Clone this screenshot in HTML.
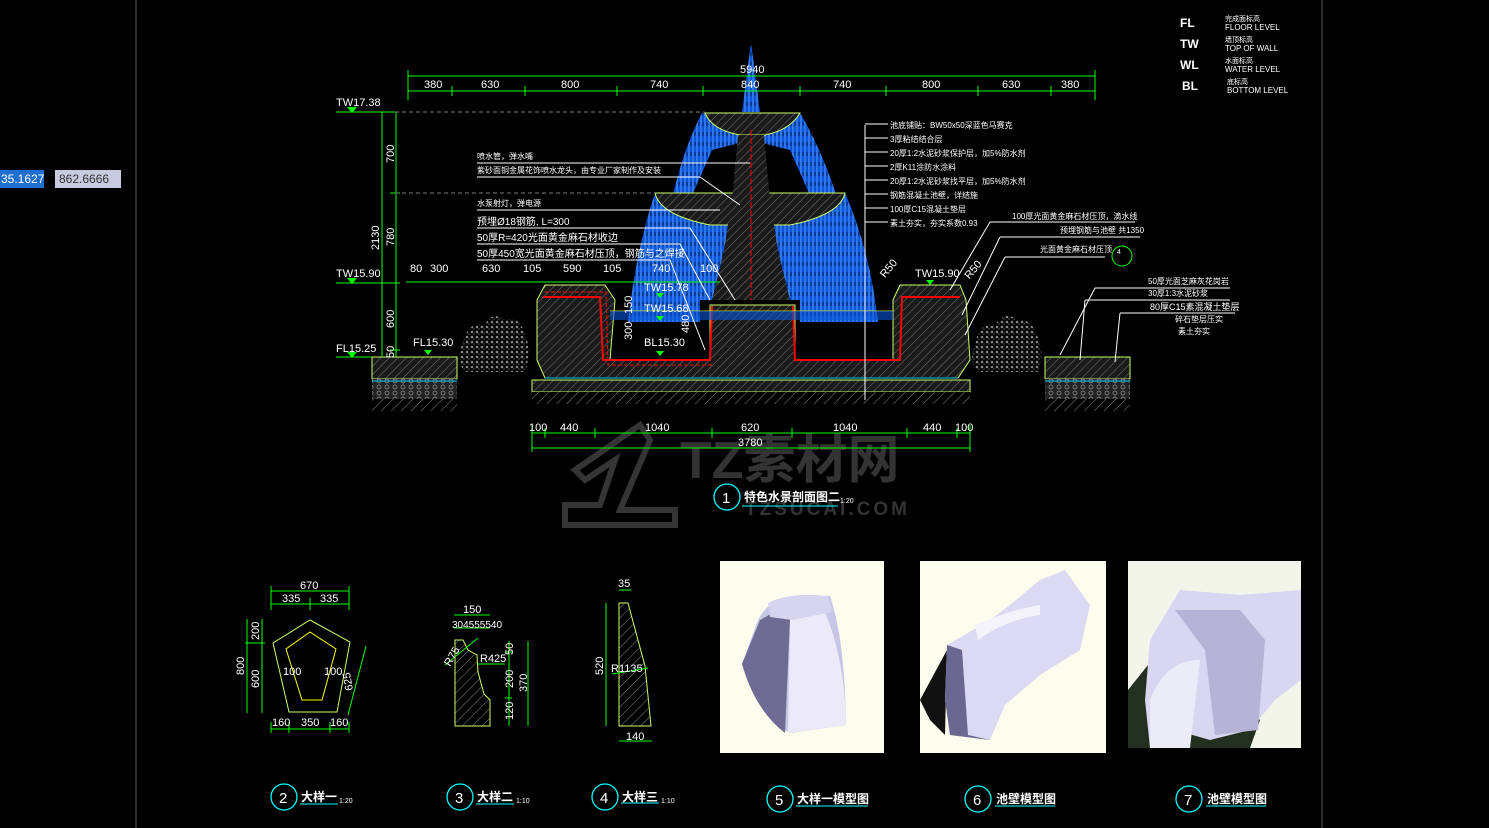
<!DOCTYPE html>
<html><head><meta charset="utf-8"><style>
html,body{margin:0;padding:0;background:#000;width:1489px;height:828px;overflow:hidden}
svg{display:block}
text{font-family:"Liberation Sans","Noto Sans CJK SC",sans-serif;fill:#fff}
.d{font-size:11px}
.g{stroke:#0f0;stroke-width:1;fill:none}
.w{stroke:#fff;stroke-width:1;fill:none}
</style></head><body>
<svg width="1489" height="828" viewBox="0 0 1489 828" xmlns="http://www.w3.org/2000/svg">
<defs>
<pattern id="h" width="6" height="6" patternUnits="userSpaceOnUse" patternTransform="rotate(45)">
<rect width="6" height="6" fill="#1a1a1a"/><line x1="0" y1="0" x2="0" y2="6" stroke="#777" stroke-width="1"/></pattern>
<pattern id="hl" width="7" height="7" patternUnits="userSpaceOnUse" patternTransform="rotate(45)">
<rect width="7" height="7" fill="#000"/><line x1="0" y1="0" x2="0" y2="7" stroke="#888" stroke-width="1"/></pattern>
<pattern id="wv" width="4" height="10" patternUnits="userSpaceOnUse">
<rect width="4" height="10" fill="#0a55d8"/><line x1="1" y1="0" x2="1" y2="10" stroke="#6aa8ff" stroke-width="0.8"/><line x1="3" y1="2" x2="3" y2="6" stroke="#000" stroke-width="0.6"/></pattern>
<pattern id="gr" width="8" height="6" patternUnits="userSpaceOnUse">
<rect width="8" height="6" fill="#222"/><circle cx="3" cy="3" r="2" fill="none" stroke="#999" stroke-width="0.7"/></pattern>
<pattern id="sh" width="5" height="5" patternUnits="userSpaceOnUse">
<rect width="5" height="5" fill="#000"/><circle cx="2" cy="2" r="1.3" fill="#888"/><circle cx="4" cy="4" r="0.8" fill="#555"/></pattern>
</defs>
<rect width="1489" height="828" fill="#000"/>
<line x1="136" y1="0" x2="136" y2="828" stroke="#555"/>
<line x1="1322" y1="0" x2="1322" y2="828" stroke="#555"/>
<rect x="0" y="170" width="44" height="18" fill="#1e6fd0"/>
<text x="1" y="183" style="font-size:12px">35.1627</text>
<rect x="55" y="170" width="66" height="18" fill="#c8cbe0"/>
<text x="59" y="183" style="font-size:12px;fill:#333">862.6666</text>

<!-- legend -->
<g style="font-size:11px">
<text x="1180" y="27" style="font-size:12px;font-weight:bold">FL</text><text x="1225" y="21" style="font-size:7px">完成面标高</text><text x="1225" y="30" style="font-size:8px">FLOOR LEVEL</text>
<text x="1180" y="48" style="font-size:12px;font-weight:bold">TW</text><text x="1225" y="42" style="font-size:7px">墙顶标高</text><text x="1225" y="51" style="font-size:8px">TOP OF WALL</text>
<text x="1180" y="69" style="font-size:12px;font-weight:bold">WL</text><text x="1225" y="63" style="font-size:7px">水面标高</text><text x="1225" y="72" style="font-size:8px">WATER LEVEL</text>
<text x="1182" y="90" style="font-size:12px;font-weight:bold">BL</text><text x="1227" y="84" style="font-size:7px">底标高</text><text x="1227" y="93" style="font-size:8px">BOTTOM LEVEL</text>
</g>

<!-- watermark -->
<g fill="none" stroke="#353535" stroke-width="6">
<path d="M575 470 L640 425 L650 440 L620 510 L675 510 L675 525 L565 525 L565 505 L600 505 L615 460 L585 480 Z"/>
</g>
<text x="680" y="478" style="font-size:52px;font-weight:bold;fill:#333">TZ素材网</text>
<text x="745" y="515" style="font-size:19px;font-weight:bold;fill:#333;letter-spacing:3px">TZSUCAI.COM</text>

<!-- water -->
<path d="M751 42 L742 112 L760 112 Z" fill="url(#wv)"/>
<path d="M702 113 L800 113 Q822 150 838 200 L850 270 L820 270 L812 200 L790 150 L751 140 L712 150 L690 200 L684 270 L660 270 Q672 170 702 113 Z" fill="url(#wv)"/>
<path d="M655 193 L845 193 Q870 250 878 322 L800 322 L800 300 L700 300 L700 322 L628 322 Q636 250 655 193 Z" fill="url(#wv)"/>
<!-- bowls -->
<path d="M705 113 L800 113 Q790 130 765 135 L740 135 Q712 130 705 113 Z" fill="url(#h)" stroke="#cf6" stroke-width="1"/>
<path d="M655 193 L845 193 Q840 215 790 225 L710 225 Q660 215 655 193 Z" fill="url(#h)" stroke="#cf6" stroke-width="1"/>
<path d="M738 135 L764 135 L770 200 L778 250 L790 300 L712 300 L724 250 L732 200 Z" fill="url(#h)"/>
<line x1="751" y1="130" x2="751" y2="300" stroke="#f00" stroke-dasharray="6 2"/>

<!-- shrubs -->
<path d="M462 345 Q468 320 485 325 Q492 310 505 320 Q520 315 525 335 Q532 350 525 372 L465 372 Q455 360 462 345 Z" fill="url(#sh)"/>
<path d="M975 345 Q980 320 995 325 Q1005 310 1018 320 Q1032 318 1038 338 Q1045 355 1038 372 L978 372 Q968 360 975 345 Z" fill="url(#sh)"/>
<!-- side pavements -->
<rect x="372" y="357" width="85" height="22" fill="url(#h)" stroke="#cf6"/>
<rect x="372" y="379" width="85" height="20" fill="url(#gr)"/>
<rect x="372" y="399" width="85" height="12" fill="url(#hl)"/>
<line x1="372" y1="381" x2="457" y2="381" stroke="#0cf"/>
<rect x="1045" y="357" width="85" height="22" fill="url(#h)" stroke="#cf6"/>
<rect x="1045" y="379" width="85" height="20" fill="url(#gr)"/>
<rect x="1045" y="399" width="85" height="12" fill="url(#hl)"/>
<line x1="1045" y1="381" x2="1130" y2="381" stroke="#0cf"/>

<!-- pool body -->
<path d="M545 285 L605 285 L615 300 L610 360 L710 360 L710 305 L795 305 L795 360 L893 360 L893 300 L900 285 L960 285 L966 300 L970 360 L958 378 L545 378 L537 360 L537 300 Z" fill="url(#h)" stroke="#cf6"/>
<rect x="532" y="380" width="438" height="12" fill="url(#h)" stroke="#cf6"/>
<rect x="532" y="392" width="438" height="12" fill="url(#hl)"/>
<path d="M543 297 L600 297 L603 360 L710 360 L712 306" fill="none" stroke="#f00" stroke-width="2"/>
<path d="M545 292 L606 292 L608 365 L712 365" fill="none" stroke="#f00" stroke-width="1" stroke-dasharray="4 2"/>
<path d="M793 306 L795 360 L900 360 L902 297 L960 297" fill="none" stroke="#f00" stroke-width="2"/>
<line x1="610" y1="311" x2="893" y2="311" stroke="#ff0" stroke-width="0.8"/>
<path d="M610 311 L893 311 L893 320 L610 320 Z" fill="#0a55d8" opacity="0.6"/>
<line x1="545" y1="378" x2="958" y2="378" stroke="#0cf"/>

<!-- dims -->
<g class="g">
<line x1="408" y1="76" x2="1095" y2="76"/><line x1="408" y1="91" x2="1095" y2="91"/>
<line x1="408" y1="70" x2="408" y2="100"/><line x1="452" y1="86" x2="452" y2="96"/><line x1="525" y1="86" x2="525" y2="96"/><line x1="617" y1="86" x2="617" y2="96"/><line x1="703" y1="86" x2="703" y2="96"/><line x1="800" y1="86" x2="800" y2="96"/><line x1="886" y1="86" x2="886" y2="96"/><line x1="978" y1="86" x2="978" y2="96"/><line x1="1051" y1="86" x2="1051" y2="96"/><line x1="1095" y1="70" x2="1095" y2="100"/>
<line x1="382" y1="112" x2="382" y2="357"/><line x1="396" y1="112" x2="396" y2="357"/>
<line x1="390" y1="193" x2="400" y2="193"/><line x1="390" y1="283" x2="400" y2="283"/><line x1="390" y1="350" x2="400" y2="350"/>
<line x1="406" y1="282" x2="720" y2="282"/>
<line x1="532" y1="433" x2="970" y2="433"/><line x1="532" y1="448" x2="970" y2="448"/>
<line x1="532" y1="425" x2="532" y2="452"/><line x1="970" y1="425" x2="970" y2="452"/>
<line x1="545" y1="428" x2="545" y2="438"/><line x1="595" y1="428" x2="595" y2="438"/><line x1="712" y1="428" x2="712" y2="438"/><line x1="792" y1="428" x2="792" y2="438"/><line x1="907" y1="428" x2="907" y2="438"/><line x1="957" y1="428" x2="957" y2="438"/>
</g>
<g class="d">
<text x="740" y="73">5940</text>
<text x="424" y="88">380</text><text x="481" y="88">630</text><text x="561" y="88">800</text><text x="650" y="88">740</text><text x="741" y="88">840</text><text x="833" y="88">740</text><text x="922" y="88">800</text><text x="1002" y="88">630</text><text x="1061" y="88">380</text>
<text x="410" y="272">80</text><text x="430" y="272">300</text><text x="482" y="272">630</text><text x="523" y="272">105</text><text x="563" y="272">590</text><text x="603" y="272">105</text><text x="652" y="272">740</text><text x="700" y="272">100</text>
<text x="529" y="431">100</text><text x="560" y="431">440</text><text x="645" y="431">1040</text><text x="741" y="431">620</text><text x="833" y="431">1040</text><text x="923" y="431">440</text><text x="955" y="431">100</text>
<text x="738" y="446">3780</text>
</g>
<g class="d">
<text transform="translate(379,250) rotate(-90)">2130</text>
<text transform="translate(394,163) rotate(-90)">700</text>
<text transform="translate(394,246) rotate(-90)">780</text>
<text transform="translate(394,328) rotate(-90)">600</text>
<text transform="translate(394,358) rotate(-90)">50</text>
<text transform="translate(632,340) rotate(-90)">300</text>
<text transform="translate(632,314) rotate(-90)">150</text>
<text transform="translate(689,333) rotate(-90)">480</text>
</g>
<g class="d">
<line x1="336" y1="112" x2="395" y2="112" stroke="#0f0"/><path d="M347 107 L357 107 L352 113Z" fill="#0f0"/><text x="336" y="106">TW17.38</text>
<line x1="395" y1="112" x2="705" y2="112" stroke="#777" stroke-dasharray="4 3"/>
<line x1="395" y1="193" x2="655" y2="193" stroke="#777" stroke-dasharray="4 3"/>
<line x1="336" y1="283" x2="395" y2="283" stroke="#0f0"/><path d="M347 278 L357 278 L352 284Z" fill="#0f0"/><text x="336" y="277">TW15.90</text>
<line x1="336" y1="357" x2="372" y2="357" stroke="#0f0"/><path d="M347 352 L357 352 L352 358Z" fill="#0f0"/><text x="336" y="352">FL15.25</text>
<text x="413" y="346">FL15.30</text><path d="M424 350 L432 350 L428 355Z" fill="#0f0"/>
<text x="644" y="291">TW15.78</text><path d="M656 293 L664 293 L660 298Z" fill="#0f0"/>
<text x="644" y="312">TW15.68</text><path d="M656 316 L664 316 L660 321Z" fill="#0f0"/>
<text x="644" y="346">BL15.30</text><path d="M656 351 L664 351 L660 356Z" fill="#0f0"/>
<text x="915" y="277">TW15.90</text><path d="M926 280 L934 280 L930 285Z" fill="#0f0"/>
<text x="880" y="276" transform="rotate(-50 885 272)">R50</text>
<text x="963" y="278" transform="rotate(-50 968 272)">R50</text>
</g>

<g style="font-size:8px">
<text x="477" y="159">喷水管，弹水嘴</text><line x1="477" y1="163" x2="750" y2="163" class="w"/>
<text x="477" y="173">紫砂面铜金属花饰喷水龙头，由专业厂家制作及安装</text><line x1="477" y1="177" x2="700" y2="177" class="w"/>
<text x="477" y="206">水泵射灯，弹电源</text><line x1="477" y1="210" x2="720" y2="210" class="w"/>
<text x="477" y="225" style="font-size:10px">预埋Ø18钢筋, L=300</text><line x1="477" y1="228" x2="690" y2="228" class="w"/>
<text x="477" y="241" style="font-size:10px">50厚R=420光面黄金麻石材收边</text><line x1="477" y1="244" x2="680" y2="244" class="w"/>
<text x="477" y="257" style="font-size:10px">50厚450宽光面黄金麻石材压顶，钢筋与之焊接</text><line x1="477" y1="260" x2="670" y2="260" class="w"/>
</g>
<g class="w"><line x1="700" y1="177" x2="740" y2="205"/><line x1="690" y1="228" x2="735" y2="300"/><line x1="680" y1="244" x2="710" y2="300"/><line x1="670" y1="260" x2="705" y2="350"/></g>
<line x1="865" y1="125" x2="865" y2="400" class="w"/>
<g style="font-size:8px">
<text x="890" y="128">池底铺贴：BW50x50深蓝色马赛克</text><line x1="865" y1="124" x2="888" y2="124" class="w"/>
<text x="890" y="142">3厚粘结结合层</text><line x1="865" y1="138" x2="888" y2="138" class="w"/>
<text x="890" y="156">20厚1:2水泥砂浆保护层，加5%防水剂</text><line x1="865" y1="152" x2="888" y2="152" class="w"/>
<text x="890" y="170">2厚K11涂防水涂料</text><line x1="865" y1="166" x2="888" y2="166" class="w"/>
<text x="890" y="184">20厚1:2水泥砂浆找平层，加5%防水剂</text><line x1="865" y1="180" x2="888" y2="180" class="w"/>
<text x="890" y="198">钢筋混凝土池壁，详结施</text><line x1="865" y1="194" x2="888" y2="194" class="w"/>
<text x="890" y="212">100厚C15混凝土垫层</text><line x1="865" y1="208" x2="888" y2="208" class="w"/>
<text x="890" y="226">素土夯实，夯实系数0.93</text><line x1="865" y1="222" x2="888" y2="222" class="w"/>
<text x="1012" y="219">100厚光面黄金麻石材压顶，滴水线</text><line x1="990" y1="222" x2="1135" y2="222" class="w"/>
<text x="1060" y="233">预埋钢筋与池壁 共1350</text><line x1="1000" y1="237" x2="1140" y2="237" class="w"/>
<text x="1040" y="252">光面黄金麻石材压顶</text><line x1="1005" y1="257" x2="1105" y2="257" class="w"/>
<text x="1148" y="284">50厚光面芝麻灰花岗岩</text><line x1="1095" y1="288" x2="1230" y2="288" class="w"/>
<text x="1148" y="296">30厚1:3水泥砂浆</text><line x1="1085" y1="300" x2="1230" y2="300" class="w"/>
<text x="1150" y="310" style="font-size:9px">80厚C15素混凝土垫层</text><line x1="1120" y1="313" x2="1235" y2="313" class="w"/>
<text x="1175" y="322">碎石垫层压实</text>
<text x="1178" y="334">素土夯实</text>
</g>
<g class="w"><line x1="990" y1="222" x2="950" y2="290"/><line x1="1000" y1="237" x2="962" y2="315"/><line x1="1005" y1="257" x2="965" y2="335"/><line x1="1095" y1="288" x2="1060" y2="355"/><line x1="1085" y1="300" x2="1080" y2="360"/><line x1="1120" y1="313" x2="1115" y2="362"/></g>
<circle cx="1122" cy="256" r="10" fill="none" stroke="#0f0"/>
<text x="1117" y="254" style="font-size:7px">4</text>

<circle cx="727" cy="497" r="13" fill="none" stroke="#0ff" stroke-width="1.3"/>
<text x="722" y="503" style="font-size:15px">1</text>
<text x="744" y="501" style="font-size:12px;font-weight:bold">特色水景剖面图二</text><text x="840" y="503" style="font-size:7px">1:20</text>
<line x1="742" y1="506" x2="838" y2="506" stroke="#0ff"/>

<!-- detail 2 -->
<g class="g">
<line x1="271" y1="591" x2="349" y2="591"/><line x1="271" y1="604" x2="349" y2="604"/>
<line x1="271" y1="586" x2="271" y2="610"/><line x1="310" y1="598" x2="310" y2="610"/><line x1="349" y1="586" x2="349" y2="610"/>
<line x1="247" y1="619" x2="247" y2="713"/><line x1="262" y1="619" x2="262" y2="713"/><line x1="245" y1="643" x2="265" y2="643"/>
<line x1="271" y1="729" x2="349" y2="729"/><line x1="289" y1="722" x2="289" y2="733"/><line x1="330" y1="722" x2="330" y2="733"/><line x1="271" y1="722" x2="271" y2="733"/><line x1="349" y1="722" x2="349" y2="733"/>
<line x1="366" y1="646" x2="348" y2="715"/>
</g>
<path d="M310 620 L350 642 L337 712 L289 712 L273 643 Z" fill="none" stroke="#cf6"/>
<path d="M310 632 L336 649 L322 700 L302 700 L286 649 Z" fill="none" stroke="#ff0"/>
<g class="d">
<text x="300" y="589">670</text><text x="282" y="602">335</text><text x="320" y="602">335</text>
<text x="272" y="726">160</text><text x="301" y="726">350</text><text x="330" y="726">160</text>
<text x="283" y="675">100</text><text x="324" y="675">100</text>
<text transform="translate(244,675) rotate(-90)">800</text>
<text transform="translate(259,640) rotate(-90)">200</text>
<text transform="translate(259,688) rotate(-90)">600</text>
<text transform="translate(353,690) rotate(-100)">625</text>
</g>
<path d="M455 640 L463 640 L468 650 L477 655 L478 672 L484 694 L490 700 L490 726 L455 726 Z" fill="url(#hl)" stroke="#cf6"/>
<g class="g">
<line x1="454" y1="615" x2="490" y2="615"/><line x1="454" y1="628" x2="490" y2="628"/>
<line x1="509" y1="641" x2="509" y2="726"/><line x1="528" y1="641" x2="528" y2="726"/>
<line x1="505" y1="652" x2="512" y2="652"/><line x1="505" y1="698" x2="512" y2="698"/>
<line x1="478" y1="664" x2="505" y2="664"/><line x1="445" y1="665" x2="478" y2="638"/>
</g>
<g class="d"><text x="463" y="613">150</text><text x="452" y="628" style="font-size:10px">304555540</text><text x="480" y="662">R425</text>
<text transform="translate(450,667) rotate(-60)">R75</text>
<text transform="translate(513,655) rotate(-90)">50</text><text transform="translate(513,688) rotate(-90)">200</text><text transform="translate(513,720) rotate(-90)">120</text><text transform="translate(527,692) rotate(-90)">370</text></g>
<path d="M619 603 L628 603 L645 666 L651 726 L619 726 Z" fill="url(#hl)" stroke="#cf6"/>
<g class="g"><line x1="606" y1="603" x2="606" y2="726"/><line x1="619" y1="590" x2="631" y2="590"/><line x1="619" y1="741" x2="652" y2="741"/><line x1="612" y1="674" x2="648" y2="668"/></g>
<g class="d"><text x="618" y="587">35</text><text x="626" y="740">140</text><text x="611" y="672">R1135</text><text transform="translate(603,675) rotate(-90)">520</text></g>

<!-- renders -->
<rect x="720" y="561" width="164" height="192" fill="#fdfdee"/>
<path d="M742 664 L758 620 Q770 598 790 597 L830 596 Q845 640 846 725 L790 733 Q760 720 742 664 Z" fill="#c8c6e6"/>
<path d="M742 664 L760 620 L778 610 L790 620 L785 733 Q755 710 742 664 Z" fill="#6e6c94"/>
<path d="M790 620 L825 612 Q845 660 846 725 L788 733 Z" fill="#eceaf8"/>
<path d="M768 603 Q790 592 828 596 L832 612 L792 620 L770 617 Z" fill="#d6d4ee"/>
<rect x="920" y="561" width="186" height="192" fill="#fdfdee"/>
<path d="M920 700 L947 650 L945 735 L930 720 Z" fill="#111"/>
<path d="M947 645 L990 620 L1010 605 L1040 580 L1065 570 L1090 605 L1080 650 L1040 675 L1005 705 L990 740 L950 735 L945 700 Z" fill="#dcdaf2"/>
<path d="M947 645 L962 650 L968 735 L990 740 L950 735 L945 700 Z" fill="#6a6890"/>
<path d="M975 625 Q1010 610 1040 605 L1040 615 Q1005 620 978 640 Z" fill="#f4f3fb"/>
<rect x="1128" y="561" width="173" height="187" fill="#f3f4ea"/>
<path d="M1128 690 L1160 650 L1200 670 L1260 720 L1250 748 L1128 748 Z" fill="#23301f"/>
<path d="M1150 640 L1180 590 L1240 595 L1301 590 L1301 680 L1275 700 L1250 730 L1210 740 L1175 730 L1150 748 L1145 700 Z" fill="#d8d6f0"/>
<path d="M1175 610 L1240 610 L1265 640 L1258 730 L1215 735 L1205 650 Z" fill="#b6b3d6"/>
<path d="M1150 700 Q1165 660 1200 660 L1190 748 L1150 748 Z" fill="#ecebf8"/>

<g style="font-size:12px;font-weight:bold">
<circle cx="284" cy="797" r="13" fill="none" stroke="#0ff" stroke-width="1.3"/><text x="279" y="803" style="font-size:15px;font-weight:normal">2</text><text x="301" y="801">大样一</text><text x="339" y="803" style="font-size:7px;font-weight:normal">1:20</text><line x1="300" y1="804" x2="338" y2="804" stroke="#0ff"/>
<circle cx="460" cy="797" r="13" fill="none" stroke="#0ff" stroke-width="1.3"/><text x="455" y="803" style="font-size:15px;font-weight:normal">3</text><text x="477" y="801">大样二</text><text x="516" y="803" style="font-size:7px;font-weight:normal">1:10</text><line x1="476" y1="804" x2="514" y2="804" stroke="#0ff"/>
<circle cx="605" cy="797" r="13" fill="none" stroke="#0ff" stroke-width="1.3"/><text x="600" y="803" style="font-size:15px;font-weight:normal">4</text><text x="622" y="801">大样三</text><text x="661" y="803" style="font-size:7px;font-weight:normal">1:10</text><line x1="621" y1="803" x2="659" y2="803" stroke="#0ff"/>
<circle cx="780" cy="799" r="13" fill="none" stroke="#0ff" stroke-width="1.3"/><text x="775" y="805" style="font-size:15px;font-weight:normal">5</text><text x="797" y="803">大样一模型图</text><line x1="796" y1="806" x2="868" y2="806" stroke="#0ff"/>
<circle cx="978" cy="799" r="13" fill="none" stroke="#0ff" stroke-width="1.3"/><text x="973" y="805" style="font-size:15px;font-weight:normal">6</text><text x="996" y="803">池壁模型图</text><line x1="995" y1="806" x2="1055" y2="806" stroke="#0ff"/>
<circle cx="1189" cy="799" r="13" fill="none" stroke="#0ff" stroke-width="1.3"/><text x="1184" y="805" style="font-size:15px;font-weight:normal">7</text><text x="1207" y="803">池壁模型图</text><line x1="1206" y1="806" x2="1266" y2="806" stroke="#0ff"/>
</g>
</svg>
</body></html>
